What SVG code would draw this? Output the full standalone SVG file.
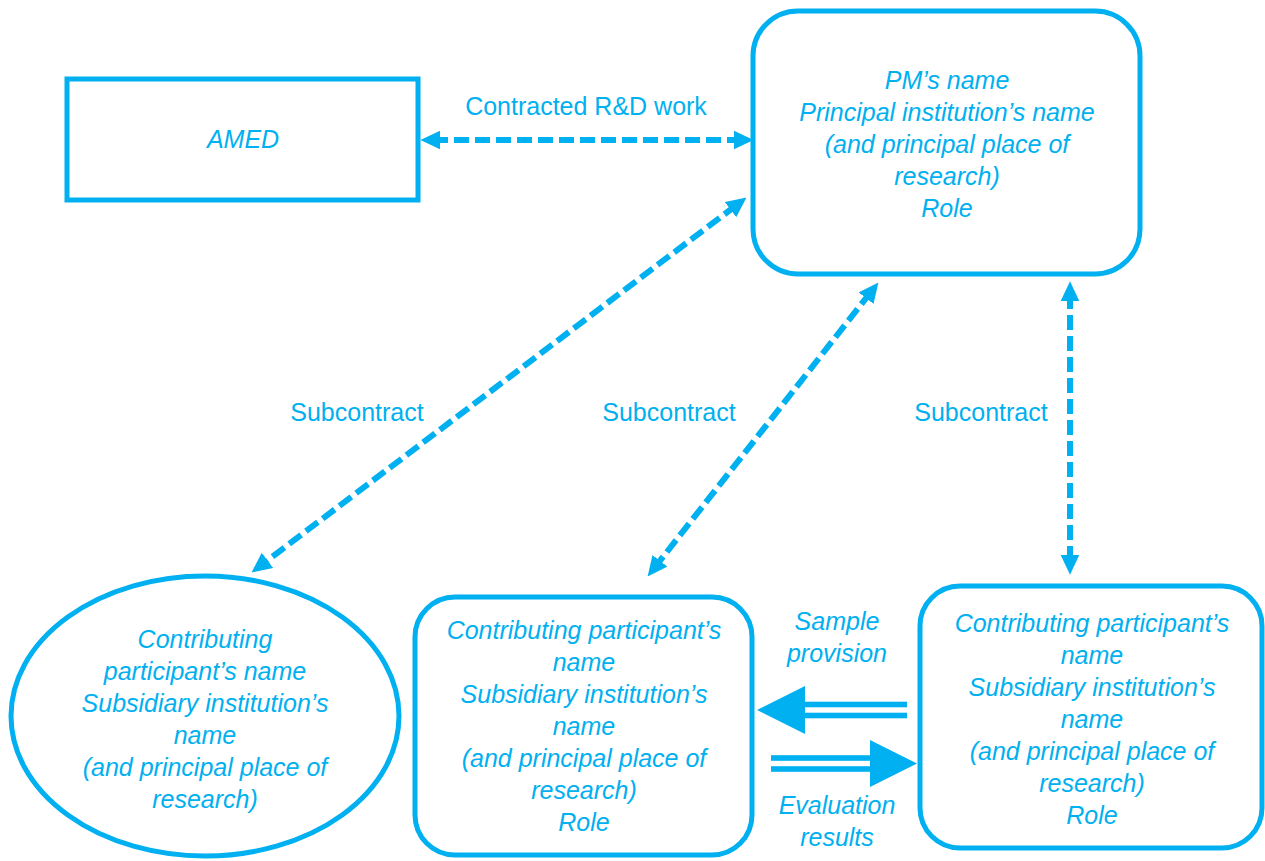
<svg xmlns="http://www.w3.org/2000/svg" width="1265" height="861" viewBox="0 0 1265 861">
<style>
.box{fill:#fff;stroke:#00B0F0;stroke-width:5}
.t{font-family:"Liberation Sans",Arial,sans-serif;font-size:25px;fill:#00B0F0;text-anchor:middle;font-style:italic}
.l{font-family:"Liberation Sans",Arial,sans-serif;font-size:25px;fill:#00B0F0;text-anchor:middle}
.dash{fill:none;stroke:#00B0F0;stroke-width:6;stroke-dasharray:15 6;marker-start:url(#ah);marker-end:url(#ah)}
.solid{fill:#00B0F0}
</style>
<defs>
<marker id="ah" markerUnits="userSpaceOnUse" markerWidth="20" markerHeight="20" viewBox="0 0 19 18" refX="7" refY="9" orient="auto-start-reverse">
<path d="M0,0 L19,9 L0,18 z" fill="#00B0F0"/>
</marker>
</defs>
<rect width="1265" height="861" fill="#fff"/>
<g id="connectors">
<line class="dash" x1="433" y1="140" x2="741" y2="140"/>
<line class="dash" x1="736.4" y1="205.2" x2="261.6" y2="564.8"/>
<line class="dash" x1="870.6" y1="292.4" x2="655.4" y2="566.6"/>
<line class="dash" x1="1070" y1="294" x2="1070" y2="562"/>
<g id="sample-arrow">
<rect class="solid" x="805" y="701.7" width="102" height="5.6"/>
<rect class="solid" x="805" y="712.7" width="102" height="5.6"/>
<polygon class="solid" points="757,710 805,686 805,734"/>
</g>
<g id="eval-arrow">
<rect class="solid" x="771" y="755.2" width="100" height="5.6"/>
<rect class="solid" x="771" y="766.2" width="100" height="5.6"/>
<polygon class="solid" points="870,740 917,763.5 870,787"/>
</g>
<text class="l" x="586" y="115">Contracted R&amp;D work</text>
<text class="l" x="357" y="421">Subcontract</text>
<text class="l" x="669" y="421">Subcontract</text>
<text class="l" x="981" y="421">Subcontract</text>
<text class="t" x="837" y="630">Sample</text>
<text class="t" x="837" y="662">provision</text>
<text class="t" x="837" y="814">Evaluation</text>
<text class="t" x="837" y="846">results</text>
</g>
<g id="amed">
<rect class="box" x="67" y="79" width="351" height="121"/>
<text class="t" x="243" y="148">AMED</text>
</g>
<g id="pm">
<rect class="box" x="753" y="11" width="387" height="263" rx="45"/>
<text class="t" x="947" y="89">PM’s name</text>
<text class="t" x="947" y="121">Principal institution’s name</text>
<text class="t" x="947" y="153">(and principal place of</text>
<text class="t" x="947" y="185">research)</text>
<text class="t" x="947" y="217">Role</text>
</g>
<g id="ellipse-participant">
<ellipse class="box" cx="205" cy="716" rx="194" ry="140"/>
<text class="t" x="205" y="648">Contributing</text>
<text class="t" x="205" y="680">participant’s name</text>
<text class="t" x="205" y="712">Subsidiary institution’s</text>
<text class="t" x="205" y="744">name</text>
<text class="t" x="205" y="776">(and principal place of</text>
<text class="t" x="205" y="808">research)</text>
</g>
<g id="middle-participant">
<rect class="box" x="415" y="597" width="337" height="258" rx="40"/>
<text class="t" x="584" y="639">Contributing participant’s</text>
<text class="t" x="584" y="671">name</text>
<text class="t" x="584" y="703">Subsidiary institution’s</text>
<text class="t" x="584" y="735">name</text>
<text class="t" x="584" y="767">(and principal place of</text>
<text class="t" x="584" y="799">research)</text>
<text class="t" x="584" y="831">Role</text>
</g>
<g id="right-participant">
<rect class="box" x="920" y="586" width="342" height="262" rx="40"/>
<text class="t" x="1092" y="632">Contributing participant’s</text>
<text class="t" x="1092" y="664">name</text>
<text class="t" x="1092" y="696">Subsidiary institution’s</text>
<text class="t" x="1092" y="728">name</text>
<text class="t" x="1092" y="760">(and principal place of</text>
<text class="t" x="1092" y="792">research)</text>
<text class="t" x="1092" y="824">Role</text>
</g>
</svg>
